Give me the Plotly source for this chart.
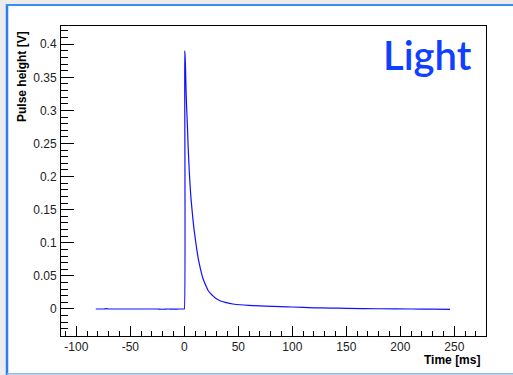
import plotly.graph_objects as go

# Pulse data (time in ms, pulse height in V)
time_ms = [-82, -75, -72, -70, -65, -55, -45, -35, -25, -20, -15, -10, -5, -1, 0.0,
           0.3, 0.6, 1.0, 1.3, 1.6, 2.0, 2.5, 3.0, 3.4, 4.0, 4.5, 5.2, 6.0, 7.0, 8.0, 9.0,
           10.0, 11.5, 13.0, 15.0, 17.5, 20.0, 22.0, 24.0, 27.0, 30.0, 33.0, 38.0,
           45.0, 55.0, 64.0, 75.0, 89.0, 100.0, 120.0, 135.0, 150.0, 180.0, 210.0, 230.0, 246.0]
pulse_v = [0.0, 0.0, 0.0006, 0.0, 0.0, 0.0, 0.0, 0.0, 0.0, -0.0004, 0.0, -0.0003, 0.0, 0.0, 0.0,
           0.39, 0.385, 0.37, 0.35, 0.33, 0.31, 0.29, 0.27, 0.25, 0.228, 0.21, 0.19, 0.17, 0.152, 0.135, 0.12,
           0.108, 0.09, 0.075, 0.06, 0.045, 0.035, 0.028, 0.024, 0.019, 0.015, 0.0125, 0.01,
           0.0075, 0.006, 0.005, 0.0042, 0.0035, 0.003, 0.0018, 0.0014, 0.001, 0.0004, 0.0, -0.0002, -0.0005]

x_tick_vals = [-100, -50, 0, 50, 100, 150, 200, 250]
x_tick_text = ["-100", "-50", "0", "50", "100", "150", "200", "250"]
y_tick_vals = [0, 0.05, 0.1, 0.15, 0.2, 0.25, 0.3, 0.35, 0.4]
y_tick_text = ["0", "0.05", "0.1", "0.15", "0.2", "0.25", "0.3", "0.35", "0.4"]

x_range = [-114.2, 279.3]
y_range = [-0.0408, 0.4275]

W, H = 513, 375
ML, MR, MT, MB = 61, 27, 26, 39
PW, PH = W - ML - MR, H - MT - MB


def px_x(p):
    return (p - ML) / PW


def px_y(p):
    return (H - MB - p) / PH


fig = go.Figure()
fig.add_trace(go.Scatter(x=time_ms, y=pulse_v, mode="lines",
                         line=dict(color="#1010ff", width=1.2, shape="spline", smoothing=0.3),
                         hoverinfo="skip", showlegend=False))

axis_common = dict(showgrid=False, zeroline=False, showline=True, linecolor="black",
                   linewidth=1, mirror=True, ticks="inside", tickcolor="black",
                   tickfont=dict(family="Liberation Sans, Arial, sans-serif", size=12, color="#222"))

fig.update_xaxes(range=x_range, tickmode="array", tickvals=x_tick_vals, ticktext=x_tick_text,
                 ticklen=10,
                 minor=dict(ticks="inside", tickmode="linear", dtick=10, tick0=0, ticklen=5,
                            tickcolor="black"),
                 **axis_common)
fig.update_yaxes(range=y_range, tickmode="array", tickvals=y_tick_vals, ticktext=y_tick_text,
                 ticklen=13, ticklabelstandoff=1,
                 minor=dict(ticks="inside", tickmode="linear", dtick=0.01, tick0=0, ticklen=7,
                            tickcolor="black"),
                 **axis_common)

shapes = [
    dict(type="rect", xref="paper", yref="paper", x0=px_x(7), x1=px_x(515),
         y0=px_y(374), y1=px_y(5), fillcolor="white", line=dict(width=0), layer="below"),
    dict(type="line", xref="paper", yref="paper", x0=px_x(7), x1=px_x(7),
         y0=px_y(375), y1=px_y(4), line=dict(color="#2b7df7", width=2.5), layer="below"),
    dict(type="line", xref="paper", yref="paper", x0=px_x(6), x1=px_x(515),
         y0=px_y(5), y1=px_y(5), line=dict(color="#3d8cf2", width=2), layer="below"),
    dict(type="line", xref="paper", yref="paper", x0=px_x(7), x1=px_x(515),
         y0=px_y(373.8), y1=px_y(373.8), line=dict(color="#8fbaf5", width=1.5), layer="below"),
]

annotations = [
    dict(text="<b>Pulse height [V]</b>", textangle=-90, xref="paper", yref="paper",
         x=px_x(22.5), y=px_y(29), xanchor="center", yanchor="top", showarrow=False,
         font=dict(family="Liberation Sans, Arial, sans-serif", size=12, color="black")),
    dict(text="<b>Time [ms]</b>", xref="paper", yref="paper", borderpad=0,
         x=px_x(481), y=px_y(360), xanchor="right", yanchor="middle", showarrow=False,
         font=dict(family="Liberation Sans, Arial, sans-serif", size=12, color="black")),
    dict(text="Light", xref="paper", yref="paper",
         x=px_x(474), y=px_y(55), xanchor="right", yanchor="middle", showarrow=False,
         font=dict(family="Lato, sans-serif", size=40, weight=600, color="#1040ff")),
]

fig.update_layout(width=W, height=H, margin=dict(l=ML, r=MR, t=MT, b=MB, pad=0),
                  paper_bgcolor="#ececec", plot_bgcolor="white",
                  shapes=shapes, annotations=annotations)

fig.write_html("out.html", config={"displayModeBar": False},
               post_script="document.body.style.margin='0';document.body.style.overflow='hidden';")
